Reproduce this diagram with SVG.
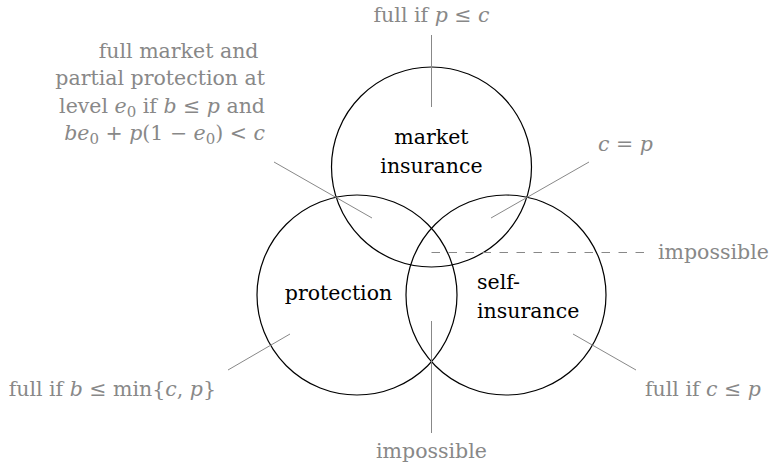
<svg xmlns="http://www.w3.org/2000/svg" width="771" height="469" viewBox="0 0 771 469">
<style>
  .circ { fill: none; stroke: #000; stroke-width: 1.2; }
  .lbl { font-family: "DejaVu Serif", "Liberation Serif", "Noto Serif", serif; font-size: 20.5px; fill: #000; }
  .note { font-family: "DejaVu Serif", "Liberation Serif", "Noto Serif", serif; font-size: 20.5px; fill: #888; }
  .lead { stroke: #888; stroke-width: 1; fill: none; }
  .dash { stroke: #888; stroke-width: 1; fill: none; stroke-dasharray: 8.5 8.5; }
  .m { font-style: italic; }
  .sub { font-size: 15px; }
</style>
<rect width="771" height="469" fill="#fff"/>
<g id="market">
  <circle class="circ" cx="431.5" cy="167" r="100"/>
  <text class="lbl" text-anchor="middle"><tspan x="431.5" y="144">market</tspan><tspan x="431.5" y="172.5">insurance</tspan></text>
</g>
<g id="protection">
  <circle class="circ" cx="357" cy="295" r="100"/>
  <text class="lbl" x="338.5" y="300" text-anchor="middle">protection</text>
</g>
<g id="selfinsurance">
  <circle class="circ" cx="506" cy="295" r="100"/>
  <text class="lbl"><tspan x="477" y="289">self-</tspan><tspan x="477" y="318">insurance</tspan></text>
</g>
<g id="connectors">
  <line class="lead" x1="431.5" y1="35" x2="431.5" y2="107"/>
  <line class="lead" x1="589" y1="162" x2="491" y2="218"/>
  <line class="lead" x1="274" y1="162" x2="372" y2="218"/>
  <line class="dash" x1="431.5" y1="252.5" x2="647" y2="252.5"/>
  <line class="lead" x1="431.5" y1="321" x2="431.5" y2="433"/>
  <line class="lead" x1="573" y1="334" x2="636" y2="370"/>
  <line class="lead" x1="290" y1="334" x2="228" y2="370"/>
</g>
<g id="note-top">
  <text class="note" x="431.5" y="22" text-anchor="middle">full if <tspan class="m">p</tspan> ≤ <tspan class="m">c</tspan></text>
</g>
<g id="note-cp">
  <text class="note" x="598" y="151"><tspan class="m">c</tspan> = <tspan class="m">p</tspan></text>
</g>
<g id="note-left">
  <text class="note" text-anchor="end">
    <tspan x="265" y="57.5">full market and</tspan>
    <tspan x="265" y="85">partial protection at</tspan>
  </text>
  <text class="note" x="265" y="112.5" text-anchor="end">level <tspan class="m">e</tspan><tspan class="sub" dy="4">0</tspan><tspan dy="-4"> if </tspan><tspan class="m">b</tspan> ≤ <tspan class="m">p</tspan> and</text>
  <text class="note" x="265" y="140" text-anchor="end"><tspan class="m">be</tspan><tspan class="sub" dy="4">0</tspan><tspan dy="-4"> + </tspan><tspan class="m">p</tspan>(1 − <tspan class="m">e</tspan><tspan class="sub" dy="4">0</tspan><tspan dy="-4">) &lt; </tspan><tspan class="m">c</tspan></text>
</g>
<g id="note-impossible-right">
  <text class="note" x="658" y="259">impossible</text>
</g>
<g id="note-impossible-bottom">
  <text class="note" x="431.5" y="458" text-anchor="middle">impossible</text>
</g>
<g id="note-bl">
  <text class="note" x="216" y="396" text-anchor="end">full if <tspan class="m">b</tspan> ≤ min{<tspan class="m">c</tspan>, <tspan class="m">p</tspan>}</text>
</g>
<g id="note-br">
  <text class="note" x="645" y="396">full if <tspan class="m">c</tspan> ≤ <tspan class="m">p</tspan></text>
</g>
</svg>
